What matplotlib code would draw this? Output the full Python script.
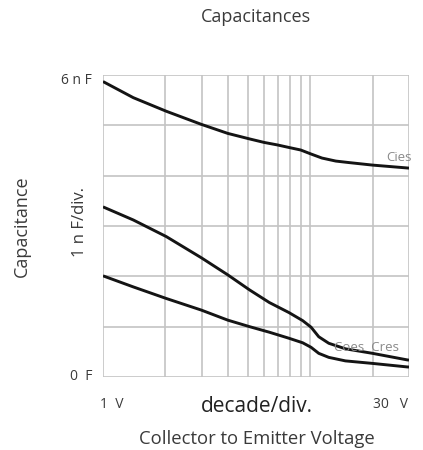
import matplotlib
matplotlib.use("Agg")
import matplotlib.pyplot as plt

plt.rcParams['font.family'] = ['Open Sans', 'DejaVu Sans']

# Data (V, nF)
cies_v = [1, 1.4, 2.02, 2.98, 4.0, 5.1, 6.0, 6.96, 7.9, 9.0, 10.1, 11.4, 13.3, 15.4, 20, 30]
cies_c = [5.87, 5.55, 5.28, 5.02, 4.84, 4.73, 4.66, 4.61, 4.56, 4.51, 4.43, 4.35, 4.29, 4.26, 4.21, 4.15]

coes_v = [1, 1.4, 2.02, 2.98, 4.0, 5.1, 6.35, 7.9, 9.2, 10.1, 11.0, 12.3, 14.8, 20, 29.4, 30]
coes_c = [3.38, 3.12, 2.79, 2.37, 2.03, 1.73, 1.48, 1.28, 1.12, 0.99, 0.80, 0.67, 0.56, 0.47, 0.34, 0.335]

cres_v = [1, 1.4, 2.02, 2.98, 4.0, 5.1, 6.35, 7.9, 9.2, 10.1, 11.0, 12.3, 14.8, 20, 29.4, 30]
cres_c = [2.01, 1.79, 1.56, 1.33, 1.13, 1.0, 0.89, 0.77, 0.68, 0.59, 0.47, 0.39, 0.32, 0.27, 0.20, 0.198]

x_grid = [1, 2, 3, 4, 5, 6, 7, 8, 9, 10, 20, 30]
y_grid = [0, 1, 2, 3, 4, 5, 6]

fig = plt.figure(figsize=(4.23, 4.5), dpi=100)
ax = fig.add_axes([103/423, 1-377/450, 306/423, 302/450])
ax.set_xscale('log')
ax.set_xlim(1, 30)
ax.set_ylim(0, 6)

gc = '#c4c4c4'
for xv in x_grid:
    ax.axvline(xv, color=gc, lw=1.2, zorder=1)
for yv in y_grid:
    ax.axhline(yv, color=gc, lw=1.2, zorder=1)
for s in ax.spines.values():
    s.set_visible(False)
ax.set_xticks([]); ax.set_yticks([])
ax.minorticks_off()
ax.tick_params(which='both', length=0, labelbottom=False, labelleft=False)

for v, c in [(cies_v, cies_c), (coes_v, coes_c), (cres_v, cres_c)]:
    ax.plot(v, c, color='#141414', lw=2.1, zorder=3, solid_capstyle='butt', solid_joinstyle='round')

ax.text(26.7, 4.37, 'Cies', color='#8a8a8a', fontsize=9.5, ha='center', va='center', zorder=4)
ax.text(18.8, 0.58, 'Coes  Cres', color='#8a8a8a', fontsize=9.5, ha='center', va='center', zorder=4)

tcol = '#3a3a3a'
fig.text(256/423, 1-17/450, 'Capacitances', ha='center', va='center', fontsize=13, color=tcol)
fig.text(92/423, 1-80/450, '6 n F', ha='right', va='center', fontsize=10, color=tcol)
fig.text(92/423, 1-376/450, '0  F', ha='right', va='center', fontsize=10, color=tcol)
fig.text(80/423, 1-222/450, '1 n F/div.', ha='center', va='center', fontsize=12, color=tcol, rotation=90)
fig.text(22/423, 1-226/450, 'Capacitance', ha='center', va='center', fontsize=13, color=tcol, rotation=90)
fig.text(112/423, 1-405/450, '1  V', ha='center', va='center', fontsize=10, color=tcol)
fig.text(390/423, 1-405/450, '30   V', ha='center', va='center', fontsize=10, color=tcol)
fig.text(257/423, 1-406/450, 'decade/div.', ha='center', va='center', fontsize=15, color='#222222')
fig.text(257/423, 1-439/450, 'Collector to Emitter Voltage', ha='center', va='center', fontsize=13.3, color=tcol)

fig.savefig('out.png', dpi=100)
